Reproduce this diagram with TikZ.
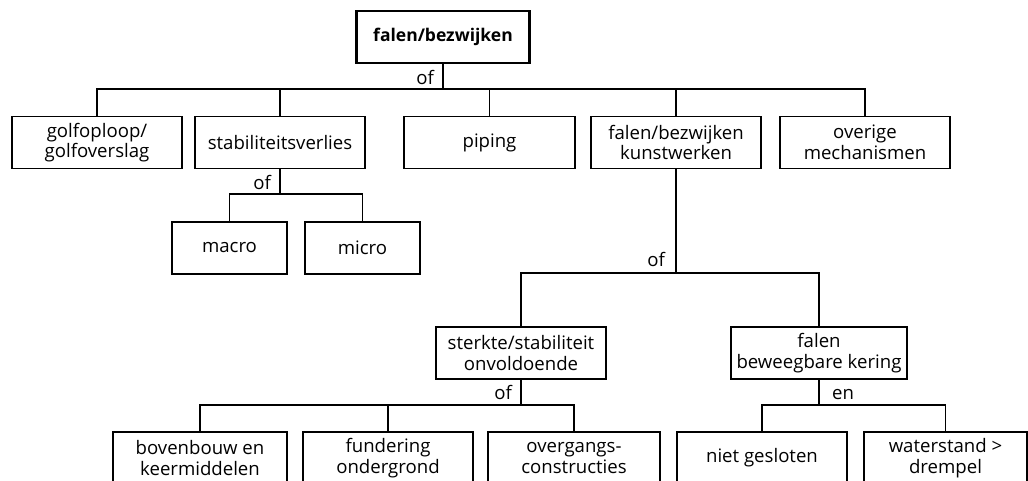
\documentclass[tikz,border=0pt]{standalone}
\usepackage{fontspec}
\setmainfont{Open Sans}
\begin{document}
\begin{tikzpicture}[x=1pt,y=-1pt,
  txt/.style={font=\fontsize{18.6}{20.5}\selectfont},
  box/.style={draw, line width=1.1pt, minimum width=#1, minimum height=52pt,
    inner sep=0pt, align=center, txt},
  box/.default=170pt,
  wire/.style={line width=1.1pt},
  lbl/.style={txt, inner sep=0pt, anchor=base east},
  lblr/.style={txt, inner sep=0pt, anchor=base west}]
\useasboundingbox (0,0) rectangle (1028,481);
\clip (0,0) rectangle (1028,481);

% root
\node[box=173pt, line width=2.4pt, font=\fontsize{17.5}{20}\selectfont\bfseries] (top) at (443,37) {falen/bezwijken};

% first level
\node[box] (golf) at (97,142.5) {golfoploop/\\golfoverslag};
\node[box] (stab) at (280,142.5) {stabiliteitsverlies};
\node[box=171pt] (piping) at (489.5,142.5) {piping};
\node[box] (kunst) at (676,142.5) {falen/bezwijken\\kunstwerken};
\node[box] (overige) at (865,142.5) {overige\\mechanismen};

% stability
\node[box=115pt] (macro) at (229.5,248) {macro};
\node[box=115pt] (micro) at (362.5,248) {micro};

% structures
\node[box] (sterkte) at (521,353) {sterkte/stabiliteit\\onvoldoende};
\node[box=176pt] (beweeg) at (819,353) {falen\\beweegbare kering};

\node[box=174pt] (boven) at (200,458) {bovenbouw en\\keermiddelen};
\node[box] (fund) at (388,458) {fundering\\ondergrond};
\node[box=172pt] (overg) at (574,458) {overgangs-\\constructies};
\node[box] (niet) at (762,458) {niet gesloten};
\node[box=163pt] (water) at (945.5,458) {waterstand >\\drempel};

% junctions on each bus
\coordinate (j1) at (443,89);
\coordinate (j2) at (280,194);
\coordinate (j3) at (676,273);
\coordinate (j4) at (521,405);
\coordinate (j5) at (819,405);

% connectors
\draw[wire] (top.south) -- (j1);
\draw[wire] (golf.north) |- (j1) -| (overige.north);
\draw[wire] (stab.north) -- (stab.north |- j1);
\draw[wire] (piping.north) -- (piping.north |- j1);
\draw[wire] (kunst.north) -- (kunst.north |- j1);

\draw[wire] (stab.south) -- (j2);
\draw[wire] (macro.north) |- (j2) -| (micro.north);

\draw[wire] (kunst.south) -- (j3);
\draw[wire] (sterkte.north) |- (j3) -| (beweeg.north);

\draw[wire] (sterkte.south) -- (j4);
\draw[wire] (boven.north) |- (j4) -| (overg.north);
\draw[wire] (fund.north) -- (fund.north |- j4);

\draw[wire] (beweeg.south) -- (j5);
\draw[wire] (niet.north) |- (j5) -| (water.north);

% gate labels
\node[lbl] (of1) at (434,85) {of};
\node[lbl] (of2) at (271,190) {of};
\node[lbl] (of3) at (665,266) {of};
\node[lbl] (of4) at (512,399) {of};
\node[lblr] (en1) at (832,399) {en};
\end{tikzpicture}
\end{document}
